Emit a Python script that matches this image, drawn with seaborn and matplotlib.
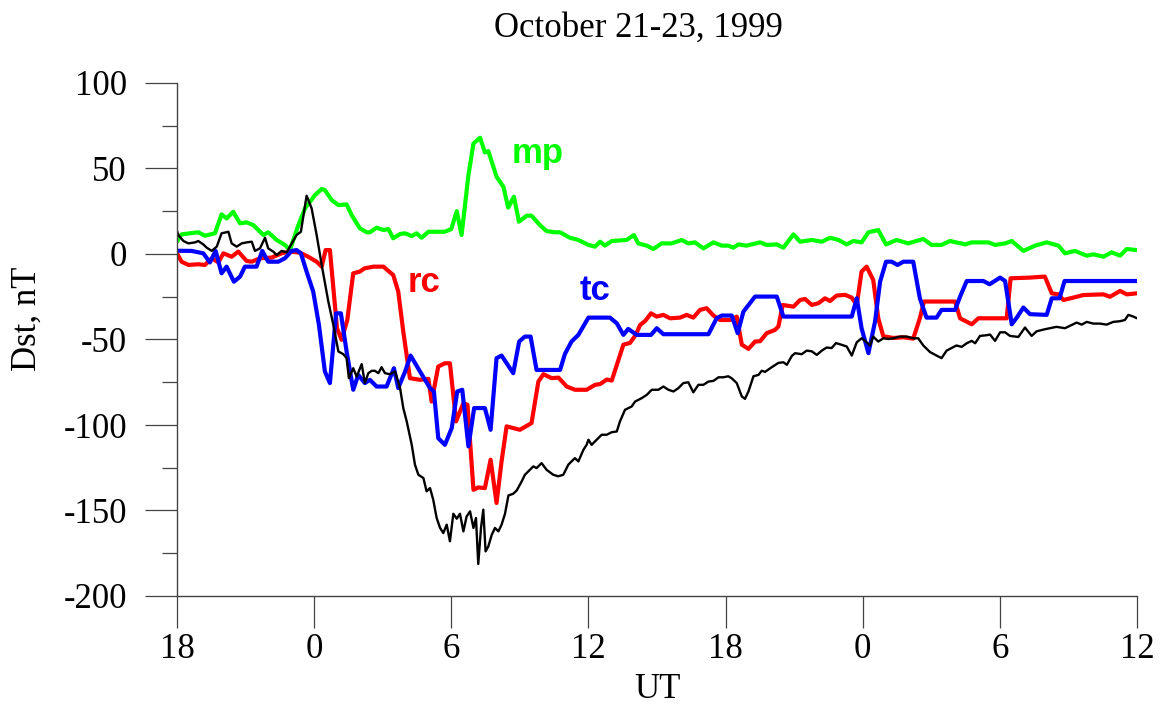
import matplotlib
matplotlib.use("Agg")
import matplotlib.pyplot as plt
import seaborn as sns
from matplotlib.ticker import MultipleLocator

# ---- data: hours since 18 UT on Oct 21, 1999 and Dst contributions (nT) ----
mp_t = [0, 0.2, 0.93, 1.22, 1.66, 1.95, 2.17, 2.46, 2.76, 3.05, 3.34, 3.78, 3.99, 4.36, 4.72,
        4.94, 5.31, 5.6, 6.04, 6.33, 6.47, 6.77, 7.06, 7.42, 7.64, 8.0, 8.3, 8.44, 8.73, 9.03,
        9.25, 9.46, 9.76, 9.98, 10.27, 10.48, 10.7, 11.0, 11.72, 12.0, 12.24, 12.45, 12.75,
        12.97, 13.26, 13.47, 13.62, 13.98, 14.28, 14.49, 14.74, 14.96, 15.3, 15.51, 15.88,
        16.17, 16.54, 16.76, 17.19, 17.56, 18.0, 18.29, 18.51, 18.72, 19.02, 19.67, 19.99,
        20.18, 20.55, 20.84, 21.2, 21.64, 22.08, 22.37, 22.66, 23.03, 23.47, 23.83, 24.12,
        24.34, 24.56, 24.92, 25.51, 25.8, 26.24, 26.53, 26.97, 27.26, 27.77, 28.21, 28.57,
        28.94, 29.3, 29.59, 29.95, 30.25, 30.68, 31.02, 31.48, 31.99, 32.65, 33.01, 33.45,
        33.82, 34.48, 34.77, 35.5, 35.79, 36.23, 36.52, 37.03, 37.54, 38.05, 38.56, 38.85,
        39.29, 39.8, 40.09, 40.53, 40.89, 41.26, 41.55, 42.0]
mp_v = [7.2, 11.5, 12.7, 10.7, 12.1, 23.2, 20.8, 24.7, 17.9, 18.5, 16.9, 11.1, 12.7, 8.2, 5.3,
        2.3, 16.9, 26.7, 34.5, 38.0, 37.4, 31.5, 28.6, 29.0, 22.8, 15.0, 12.7, 12.7, 15.4, 14.0,
        14.6, 9.2, 11.7, 12.1, 10.5, 12.1, 9.5, 13.0, 13.0, 14.6, 25.1, 11.1, 46.1,
        64.6, 68.0, 59.4, 60.2, 45.2, 39.3, 27.1, 33.5, 18.9, 22.4, 22.4, 16.9,
        13.4, 12.7, 12.7, 9.5, 8.2, 5.3, 4.3, 7.2, 4.9, 7.6, 8.2, 11.1,
        6.2, 4.9, 2.9, 6.2, 6.2, 8.2, 6.2, 6.8, 3.3, 6.8, 4.9, 4.9,
        3.7, 5.6, 4.9, 6.8, 5.3, 5.6, 3.7, 11.5, 7.2, 8.2, 7.2, 9.5,
        8.2, 5.6, 7.6, 6.8, 12.7, 14.0, 5.6, 8.2, 6.2, 8.8, 5.3, 5.3,
        7.6, 5.6, 6.8, 6.8, 5.3, 6.2, 7.6, 1.8, 4.9, 6.8, 4.9, 0.4,
        1.8, -1.0, -0.2, -1.6, 1.0, -1.0, 2.9, 2.3]

rc_t = [0, 0.2, 0.5, 0.93, 1.22, 1.52, 1.81, 2.03, 2.39, 2.68, 3.05, 3.27, 3.63, 4.14, 4.58,
        4.94, 5.38, 5.74, 6.11, 6.33, 6.5, 6.69, 7.0, 7.2, 7.45, 7.71, 8.0, 8.2, 8.6, 9.03,
        9.46, 9.68, 9.9, 10.19, 10.63, 11.0, 11.14, 11.43, 11.72, 11.94, 12.21, 12.53, 12.71,
        12.97, 13.18, 13.47, 13.72, 13.98, 14.2, 14.42, 14.71, 15.0, 15.51, 15.81, 16.03,
        16.39, 16.69, 17.05, 17.41, 17.92, 18.29, 18.51, 18.8, 19.02, 19.53, 19.82, 20.07,
        20.26, 20.48, 20.74, 20.99, 21.28, 21.57, 22.01, 22.3, 22.59, 22.88, 23.17, 23.47,
        23.76, 24.2, 24.49, 24.71, 25.0, 25.29, 25.51, 25.8, 26.16, 26.31, 26.5, 26.97,
        27.26, 27.48, 27.77, 28.06, 28.35, 28.57, 28.86, 29.23, 29.52, 29.74, 29.95, 30.17,
        30.46, 30.68, 30.9, 31.34, 31.78, 32.21, 32.5, 32.68, 33.96, 34.04, 34.26, 34.77,
        35.06, 36.3, 36.47, 37.32, 37.97, 38.27, 38.56, 38.78, 39.21, 39.65, 40.53, 40.82,
        41.26, 41.55, 42.0]
rc_v = [0.4, -4.5, -6.4, -6.0, -6.4, -2.5, -4.9, 0.4, -1.6, 1.4, -4.1, -4.5, -2.5, -2.1, 0.4,
        1.4, 0.8, -1.6, -4.5, -7.4, 2.3, 2.3, -43.4, -50.2, -38.6, -11.3, -10.3, -8.4, -7.4, -7.4,
        -12.3, -22.0, -45.4, -72.6, -73.6, -73.0, -86.3, -65.8, -63.9, -63.9, -97.9, -87.2, -88.2,
        -137.9, -136.5, -136.9, -120.3, -145.6, -121.3, -100.8, -101.8, -102.8, -98.9, -74.6, -70.3,
        -72.6, -72.3, -77.5, -79.4, -79.4, -76.5, -76.1, -73.4, -74.0, -53.0, -52.0, -47.3,
        -41.5, -39.2, -34.7, -36.6, -35.6, -37.6, -37.2, -35.6, -37.2, -32.7, -31.7, -36.0,
        -38.6, -38.6, -36.6, -53.0, -55.5, -51.2, -51.0, -46.3, -44.4, -42.4, -29.8, -30.8,
        -26.9, -26.3, -29.8, -28.8, -25.9, -27.5, -24.3, -23.9, -25.5, -29.8, -10.3, -7.4,
        -15.2, -37.6, -48.1, -49.1, -48.7, -49.5, -37.6, -27.8, -27.8, -27.8, -37.6, -41.1,
        -37.6, -37.6, -14.2, -13.8, -13.2, -23.0, -23.6, -26.9, -25.5, -24.0, -23.6, -25.0,
        -21.6, -23.6, -23.0]

tc_t = [0, 0.64, 1.15, 1.44, 1.69, 1.95, 2.17, 2.49, 2.76, 2.97, 3.48, 3.73, 3.99, 4.43, 4.72,
        5.02, 5.23, 5.42, 5.67, 5.96, 6.21, 6.47, 6.69, 6.96, 7.17, 7.42, 7.71, 7.93, 8.22,
        8.44, 8.73, 9.17, 9.49, 9.68, 9.98, 10.22, 10.63, 11.07, 11.24, 11.43, 11.72, 12.02,
        12.26, 12.48, 12.75, 13.0, 13.47, 13.72, 13.98, 14.2, 14.71, 14.97, 15.22, 15.47,
        15.73, 16.76, 16.97, 17.26, 17.56, 18.0, 18.94, 19.24, 19.53, 19.74, 20.11, 20.74,
        20.99, 21.28, 23.25, 23.61, 23.83, 24.27, 24.53, 24.78, 25.29, 26.24, 26.53, 29.52,
        29.74, 29.95, 30.25, 30.54, 30.76, 31.02, 31.27, 31.52, 31.78, 32.21, 32.5, 32.79,
        33.23, 33.45, 34.04, 34.26, 34.55, 35.28, 35.55, 36.01, 36.23, 36.52, 36.74, 37.03,
        37.32, 38.05, 38.27, 38.61, 38.83, 42.0]
tc_v = [1.9, 1.8, 0.4, -4.9, 1.8, -11.3, -7.4, -16.2, -13.2, -7.4, -7.4, 1.8, -4.5, -4.5, -2.5,
        1.8, 2.3, 0.4, -10.3, -22.0, -41.5, -68.7, -75.5, -34.7, -34.7, -57.0, -79.4, -70.7, -75.5,
        -73.6, -77.5, -77.5, -66.8, -78.4, -68.7, -59.4, -68.7, -78.4, -80.4, -107.7, -111.6, -101.8,
        -80.4, -79.4, -112.5, -90.1, -90.1, -102.8, -60.9, -59.4, -69.7, -51.2, -48.3, -48.3,
        -67.8, -67.8, -58.5, -51.2, -47.3, -37.2, -37.2, -40.5, -47.3, -43.8, -47.3, -47.3,
        -43.4, -46.9, -46.9, -37.6, -36.0, -36.0, -46.3, -33.7, -24.9, -24.9, -36.6, -36.6,
        -25.9, -43.4, -58.0, -39.5, -16.2, -4.5, -4.5, -6.4, -4.5, -4.5, -25.9, -37.2,
        -37.2, -32.7, -32.7, -24.9, -15.8, -15.8, -17.7, -13.8, -15.8, -41.1, -37.2, -31.3,
        -35.2, -35.6, -25.9, -25.9, -15.8, -15.8]

dst_t = [0, 0.06, 0.28, 0.5, 0.79, 0.93, 1.15, 1.3, 1.52, 1.74, 1.95, 2.25, 2.39, 2.61, 2.83,
         3.05, 3.27, 3.41, 3.63, 3.85, 3.99, 4.21, 4.36, 4.58, 4.8, 5.02, 5.23, 5.42, 5.67,
         5.89, 6.11, 6.33, 6.62, 6.84, 7.06, 7.28, 7.42, 7.52, 7.71, 7.86, 8.08, 8.22, 8.37,
         8.52, 8.66, 8.81, 8.95, 9.1, 9.32, 9.54, 9.76, 9.9, 10.05, 10.27, 10.41, 10.56, 10.78,
         10.92, 11.07, 11.21, 11.36, 11.51, 11.65, 11.8, 11.94, 12.09, 12.24, 12.38, 12.53,
         12.67, 12.82, 12.97, 13.08, 13.18, 13.3, 13.4, 13.5, 13.62, 13.77, 13.91, 14.06,
         14.2, 14.35, 14.5, 14.71, 14.86, 15.08, 15.22, 15.44, 15.59, 15.73, 15.95, 16.17,
         16.46, 16.68, 16.9, 17.12, 17.26, 17.41, 17.56, 17.78, 17.92, 18.0, 18.14, 18.36,
         18.58, 18.8, 19.02, 19.24, 19.38, 19.6, 19.89, 20.04, 20.33, 20.55, 20.77, 21.06,
         21.28, 21.5, 21.72, 21.93, 22.15, 22.37, 22.59, 22.81, 23.03, 23.25, 23.47, 23.69,
         23.9, 24.12, 24.27, 24.49, 24.71, 24.85, 25.0, 25.22, 25.44, 25.58, 25.73, 26.02,
         26.31, 26.53, 26.68, 26.9, 27.04, 27.33, 27.55, 27.77, 27.99, 28.21, 28.42, 28.64,
         28.83, 29.08, 29.3, 29.52, 29.74, 29.95, 30.1, 30.32, 30.46, 30.68, 30.9, 31.12,
         31.34, 31.63, 31.92, 32.21, 32.43, 32.65, 32.94, 33.23, 33.45, 33.67, 33.89, 34.1,
         34.33, 34.55, 34.77, 34.92, 35.13, 35.42, 35.57, 35.79, 36.01, 36.23, 36.44, 36.81,
         37.1, 37.39, 37.61, 37.97, 38.19, 38.48, 38.85, 39.14, 39.36, 39.58, 39.8, 40.09,
         40.38, 40.67, 40.96, 41.26, 41.47, 41.62, 41.84, 42.0]
dst_v = [13.4, 11.1, 7.6, 6.2, 6.8, 7.6, 5.6, 3.7, 1.8, 4.3, 12.1, 13.0, 6.2, 4.3, 6.2,
         6.8, 7.2, 1.8, 3.3, 9.5, 3.3, 1.4, -0.6, 1.8, 1.0, 6.2, 11.1, 13.0, 34.1,
         26.7, 11.1, -6.4, -27.8, -41.5, -57.0, -58.6, -60.9, -72.6, -66.8, -71.7, -64.4, -75.5, -69.7,
         -68.3, -68.3, -69.7, -66.2, -69.7, -70.3, -68.7, -78.5, -90.1, -97.9, -111.6, -123.2, -129.1, -131.0,
         -138.8, -136.9, -143.7, -154.4, -160.2, -163.2, -158.3, -168.0, -151.9, -154.8, -151.9, -162.2,
         -153.5, -150.5, -160.2, -154.4, -181.3, -160.2, -149.5, -173.9, -171.0, -164.2, -160.2, -162.2,
         -158.3, -151.9, -141.2, -140.2, -138.3, -133.0, -129.1, -126.2, -124.2, -125.2, -122.3, -126.2,
         -129.1, -130.0, -129.1, -123.2, -121.3, -119.4, -121.3, -114.5, -111.6, -108.6, -111.6, -108.6,
         -105.7, -105.7, -104.2, -103.8, -97.9, -91.1, -89.2, -86.3, -84.3, -82.4, -79.4, -79.4,
         -77.5, -79.4, -80.4, -78.5, -75.5, -75.0, -80.9, -76.5, -76.5, -74.6, -74.2, -72.1,
         -72.1, -71.5, -72.7, -75.5, -83.3, -84.7, -80.4, -71.5, -70.7, -68.3, -68.9, -66.2,
         -63.7, -63.3, -64.8, -59.6, -58.0, -58.6, -56.5, -56.9, -59.0, -56.5, -54.7, -55.0,
         -52.1, -53.1, -54.1, -59.4, -51.6, -49.3, -50.8, -53.5, -48.3, -51.2, -49.3, -49.7,
         -49.3, -48.3, -48.3, -49.3, -49.3, -53.5, -57.3, -59.4, -60.9, -56.5, -55.0, -53.5,
         -54.3, -52.2, -50.8, -52.2, -47.9, -47.5, -47.1, -50.8, -45.8, -45.8, -47.9, -48.5,
         -43.0, -47.9, -45.2, -44.0, -43.4, -42.6, -43.4, -41.5, -40.1, -41.3, -39.7, -40.7,
         -40.7, -41.3, -39.7, -39.3, -38.6, -35.6, -36.6, -37.6]

x_ticks = [0, 6, 12, 18, 24, 30, 36, 42]
x_tick_labels = ["18", "0", "6", "12", "18", "0", "6", "12"]
y_ticks = [100, 50, 0, -50, -100, -150, -200]

# ---- style ----
sns.set_style("ticks")
plt.rcParams["font.family"] = ["Liberation Serif", "DejaVu Serif"]
plt.rcParams["text.color"] = "black"
plt.rcParams["axes.labelcolor"] = "black"

W, H = 1161, 707
fig = plt.figure(figsize=(W / 100, H / 100), dpi=100)
ax = fig.add_axes([177 / W, 1 - 596 / H, 960 / W, 513 / H])

series = [
    (mp_t, mp_v, "#00ff00", 3.0),
    (rc_t, rc_v, "#ff0000", 3.0),
    (tc_t, tc_v, "#0000ff", 3.0),
    (dst_t, dst_v, "#000000", 1.7),
]
for t, v, c, lw in series:
    sns.lineplot(x=t, y=v, ax=ax, color=c, linewidth=lw,
                 estimator=None, sort=False, legend=False)

ax.set_xlim(0, 42)
ax.set_ylim(-200, 100)
ax.set_xticks(x_ticks)
ax.set_xticklabels(x_tick_labels)
ax.set_yticks(y_ticks)
ax.set_yticklabels([str(v) for v in y_ticks])
ax.yaxis.set_minor_locator(MultipleLocator(25))

for side in ("top", "right"):
    ax.spines[side].set_visible(False)
for side in ("left", "bottom"):
    ax.spines[side].set_color("#444444")
    ax.spines[side].set_linewidth(1.0)

ax.tick_params(axis="both", which="major", direction="out", length=23, width=0.9,
               color="#444444", labelsize=25, labelcolor="black")
ax.tick_params(axis="y", which="major", pad=13)
ax.tick_params(axis="x", which="major", pad=4)
ax.tick_params(axis="y", which="minor", direction="out", length=11, width=0.9, color="#444444")

ax.set_xlabel("UT", fontsize=25, va="center", color="black")
ax.xaxis.set_label_coords(0.5, -0.183)
ax.set_ylabel("Dst, nT", fontsize=25, va="center", ha="center", color="black")
ax.yaxis.set_label_coords(-0.156, 0.54)

fig.text(638 / W, 1 - 37 / H, "October 21-23, 1999", fontsize=25,
         ha="center", va="baseline", color="black")

# component labels
lab_font = dict(fontsize=25, fontweight="bold", family=["Liberation Sans", "DejaVu Sans"],
                ha="left", va="baseline")
ax.text(14.66, 53.2, "mp", color="#00ff00", **lab_font)
ax.text(10.1, -22.2, "rc", color="#ff0000", **lab_font)
ax.text(17.63, -26.9, "tc", color="#0000ff", **lab_font)

fig.savefig("out.png", dpi=100)
